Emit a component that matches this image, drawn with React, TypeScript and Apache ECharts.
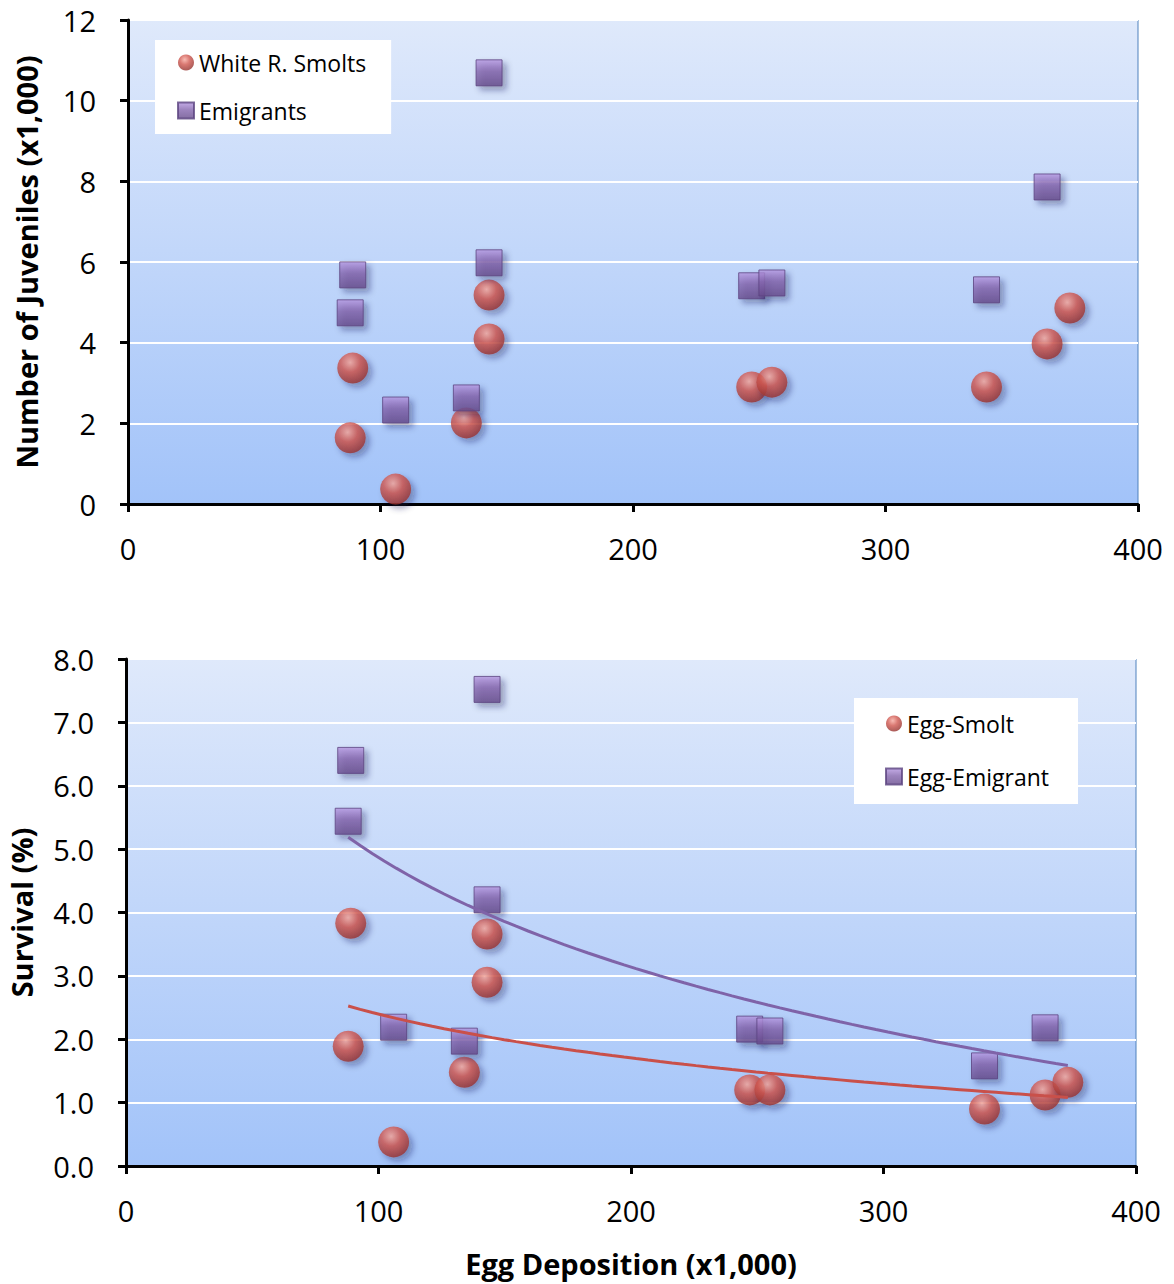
import React, { useEffect, useRef } from "react";
import * as echarts from "echarts";

// Egg deposition (x1,000) for each year
const eggDeposition = [88, 89, 106, 134, 143, 143, 247, 255, 340, 364, 373];
// Top chart: number of juveniles (x1,000)
const smolts = [1.64, 3.37, 0.37, 2.01, 4.09, 5.18, 2.9, 3.02, 2.9, 3.97, 4.86];
const emigrants = [4.74, 5.68, 2.33, 2.63, 10.69, 5.98, 5.41, 5.48, 5.31, 7.86, null];
// Bottom chart: survival (%)
const smoltSurvival = [1.89, 3.83, 0.38, 1.48, 2.9, 3.66, 1.2, 1.2, 0.9, 1.12, 1.32];
const emigrantSurvival = [5.44, 6.4, 2.19, 1.97, 7.52, 4.2, 2.16, 2.13, 1.58, 2.18, null];

const xTicks = [0, 100, 200, 300, 400];
const topLegend = ["White R. Smolts", "Emigrants"];
const bottomLegend = ["Egg-Smolt", "Egg-Emigrant"];

const FONT = "Open Sans";

function pairs(xs: number[], ys: (number | null)[]) {
  const out: number[][] = [];
  xs.forEach((x, i) => {
    const y = ys[i];
    if (y !== null && y !== undefined) out.push([x, y]);
  });
  return out;
}

// Logarithmic least-squares trend line (y = a*ln(x) + b), spanning the egg range
function logTrend(xs: number[], ys: (number | null)[]) {
  const pts = pairs(xs, ys);
  const n = pts.length;
  const lx = pts.map((p) => Math.log(p[0]));
  const mx = lx.reduce((s, v) => s + v, 0) / n;
  const my = pts.reduce((s, p) => s + p[1], 0) / n;
  let sxy = 0;
  let sxx = 0;
  pts.forEach((p, i) => {
    sxy += (lx[i] - mx) * (p[1] - my);
    sxx += (lx[i] - mx) * (lx[i] - mx);
  });
  const a = sxy / sxx;
  const b = my - a * mx;
  const lo = Math.min(...xs);
  const hi = Math.max(...xs);
  const steps = 60;
  const out: number[][] = [];
  for (let k = 0; k <= steps; k++) {
    const x = lo + ((hi - lo) * k) / steps;
    out.push([x, a * Math.log(x) + b]);
  }
  return out;
}

const sphere = {
  color: {
    type: "radial",
    x: 0.42,
    y: 0.32,
    r: 0.7,
    colorStops: [
      { offset: 0, color: "#f6aaa0" },
      { offset: 0.45, color: "#d0574f" },
      { offset: 1, color: "#93302c" },
    ],
  },
  shadowBlur: 6,
  shadowOffsetX: 4,
  shadowOffsetY: 4,
  shadowColor: "rgba(20,30,80,0.45)",
};

const cube = {
  color: {
    type: "linear",
    x: 0,
    y: 0,
    x2: 0,
    y2: 1,
    colorStops: [
      { offset: 0, color: "#b596e0" },
      { offset: 0.45, color: "#8465ae" },
      { offset: 1, color: "#664a8c" },
    ],
  },
  borderColor: "#5b4380",
  borderWidth: 1,
  shadowBlur: 6,
  shadowOffsetX: 4,
  shadowOffsetY: 4,
  shadowColor: "rgba(20,30,80,0.45)",
};

const plotBg = {
  type: "linear",
  x: 0,
  y: 0,
  x2: 0,
  y2: 1,
  colorStops: [
    { offset: 0, color: "#dfe9fb" },
    { offset: 1, color: "#a2c3f9" },
  ],
};

function yAxis(gridIndex: number, name: string, max: number, interval: number, dec: number, gap: number) {
  return {
    type: "value",
    gridIndex,
    min: 0,
    max,
    interval,
    name,
    nameLocation: "middle",
    nameGap: gap,
    nameTextStyle: { fontFamily: FONT, fontSize: 29, fontWeight: "bold", color: "#000" },
    axisLine: { show: true, lineStyle: { color: "#000", width: 3 } },
    axisTick: { show: true, inside: false, length: 8, lineStyle: { color: "#000", width: 3 } },
    axisLabel: {
      margin: 32,
      fontFamily: FONT,
      fontSize: 29,
      color: "#000",
      formatter: (v: number) => v.toFixed(dec),
    },
    splitLine: { show: true, lineStyle: { color: "#ffffff", width: 2 } },
  };
}

function xAxis(gridIndex: number, name: string) {
  return {
    type: "value",
    gridIndex,
    min: xTicks[0],
    max: xTicks[xTicks.length - 1],
    interval: xTicks[1] - xTicks[0],
    name,
    nameLocation: "middle",
    nameGap: 83,
    nameTextStyle: { fontFamily: FONT, fontSize: 29, fontWeight: "bold", color: "#000" },
    axisLine: { show: true, lineStyle: { color: "#000", width: 3 } },
    axisTick: { show: true, inside: false, length: 8, lineStyle: { color: "#000", width: 3 } },
    axisLabel: { margin: 30, fontFamily: FONT, fontSize: 29, color: "#000" },
    splitLine: { show: false },
  };
}

export default function App() {
  const ref = useRef<HTMLDivElement>(null);
  useEffect(() => {
    if (!ref.current) return;
    const chart = echarts.init(ref.current, null, { renderer: "svg" });
    const legendCommon = {
      orient: "vertical",
      backgroundColor: "#ffffff",
      itemWidth: 16,
      itemHeight: 16,
      textStyle: { fontFamily: FONT, fontSize: 23, color: "#000" },
    };
    chart.setOption({
      animation: false,
      backgroundColor: "#ffffff",
      grid: [
        {
          left: 128,
          top: 20,
          width: 1010,
          height: 484,
          show: true,
          outerBoundsMode: "none",
          containLabel: false,
          backgroundColor: plotBg,
          borderColor: "#4f81bd",
          borderWidth: 1,
        },
        {
          left: 126,
          top: 659,
          width: 1010,
          height: 507,
          show: true,
          outerBoundsMode: "none",
          containLabel: false,
          backgroundColor: plotBg,
          borderColor: "#4f81bd",
          borderWidth: 1,
        },
      ],
      legend: [
        {
          ...legendCommon,
          data: topLegend,
          left: 155,
          top: 40,
          padding: [11, 25, 12, 22],
          itemGap: 25,
        },
        {
          ...legendCommon,
          data: bottomLegend,
          left: 854,
          top: 698,
          padding: [14, 29, 16, 31],
          itemGap: 30,
        },
      ],
      xAxis: [xAxis(0, ""), xAxis(1, "Egg Deposition (x1,000)")],
      yAxis: [
        yAxis(0, "Number of Juveniles (x1,000)", 12, 2, 0, 87),
        yAxis(1, "Survival (%)", 8, 1, 1, 90),
      ],
      series: [
        {
          name: topLegend[0],
          type: "scatter",
          xAxisIndex: 0,
          yAxisIndex: 0,
          symbol: "circle",
          symbolSize: 31,
          itemStyle: sphere,
          data: pairs(eggDeposition, smolts),
        },
        {
          name: topLegend[1],
          type: "scatter",
          xAxisIndex: 0,
          yAxisIndex: 0,
          symbol: "rect",
          symbolSize: 26,
          itemStyle: cube,
          data: pairs(eggDeposition, emigrants),
        },
        {
          name: bottomLegend[0],
          type: "scatter",
          xAxisIndex: 1,
          yAxisIndex: 1,
          symbol: "circle",
          symbolSize: 31,
          itemStyle: sphere,
          data: pairs(eggDeposition, smoltSurvival),
        },
        {
          name: bottomLegend[1],
          type: "scatter",
          xAxisIndex: 1,
          yAxisIndex: 1,
          symbol: "rect",
          symbolSize: 26,
          itemStyle: cube,
          data: pairs(eggDeposition, emigrantSurvival),
        },
        {
          name: "Egg-Emigrant trend",
          type: "line",
          xAxisIndex: 1,
          yAxisIndex: 1,
          showSymbol: false,
          smooth: false,
          lineStyle: { color: "#7f63a8", width: 3 },
          data: logTrend(eggDeposition, emigrantSurvival),
          z: 5,
        },
        {
          name: "Egg-Smolt trend",
          type: "line",
          xAxisIndex: 1,
          yAxisIndex: 1,
          showSymbol: false,
          smooth: false,
          lineStyle: { color: "#c9504a", width: 3 },
          data: logTrend(eggDeposition, smoltSurvival),
          z: 5,
        },
      ],
    });
    return () => chart.dispose();
  }, []);
  return (
    <div
      ref={ref}
      style={{ position: "fixed", left: 0, top: 0, width: 1174, height: 1284, background: "#fff" }}
    />
  );
}
